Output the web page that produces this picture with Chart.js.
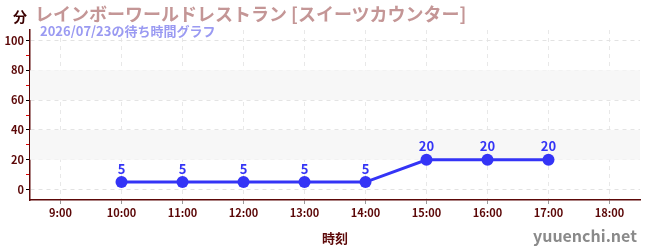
<!DOCTYPE html>
<html lang="ja">
<head>
<meta charset="utf-8">
<script src="https://cdn.jsdelivr.net/npm/chart.js@4"></script>
<style>
  body { margin: 0; background: #fff; }
  #wrap { position: relative; width: 650px; height: 250px; font-family: 'Noto Sans CJK JP', 'Noto Sans', sans-serif; }
  canvas { position: absolute; left: 0; top: 0; }
  .txt { position: absolute; white-space: nowrap; font-weight: bold; line-height: 1; }
  #unit { left: 13px; top: 9px; font-size: 14px; color: #3a0000; }
  #title { left: 35px; top: 4px; font-size: 18px; color: #c49696; }
  #sub { left: 40px; top: 24px; font-size: 13px; color: #9a9af2; }
  #mark { left: 533px; top: 227px; font-size: 16px; color: #8a8a8a; font-weight: 600; }
</style>
</head>
<body>
<div id="wrap">
  <canvas id="c" width="650" height="250"></canvas>
  <div class="txt" id="unit">分</div>
  <div class="txt" id="title">レインボーワールドレストラン [スイーツカウンター]</div>
  <div class="txt" id="sub">2026/07/23の待ち時間グラフ</div>
  <div class="txt" id="mark">yuuenchi.net</div>
</div>
<script>
  // dados
  const horas = ['9:00', '10:00', '11:00', '12:00', '13:00', '14:00', '15:00', '16:00', '17:00', '18:00'];
  const espera = [null, 5, 5, 5, 5, 5, 20, 20, 20, null];
  const faixas = [[20, 40], [60, 80]];

  const ESCURO = '#5c0808';
  const AZUL = '#3434f6';
  const fonte = 'Noto Sans CJK JP';

  // faixas cinza claras atrás do gráfico
  const pluginFaixas = {
    id: 'faixas',
    beforeDatasetsDraw(chart) {
      const { ctx, chartArea: a, scales: { y } } = chart;
      ctx.save();
      ctx.fillStyle = '#f7f7f7';
      for (const [de, ate] of faixas) {
        const y1 = y.getPixelForValue(ate), y2 = y.getPixelForValue(de);
        ctx.fillRect(a.left, y1, a.right - a.left, y2 - y1);
      }
      ctx.restore();
    },
  };

  // rótulos com o valor acima de cada ponto
  const pluginRotulos = {
    id: 'rotulos',
    afterDatasetsDraw(chart) {
      const { ctx } = chart;
      const meta = chart.getDatasetMeta(0);
      ctx.save();
      ctx.fillStyle = AZUL;
      ctx.font = `bold 13px "${fonte}"`;
      ctx.textAlign = 'center';
      ctx.textBaseline = 'bottom';
      meta.data.forEach((p, i) => {
        if (espera[i] == null) return;
        ctx.fillText(String(espera[i]), p.x, p.y - 7);
      });
      ctx.restore();
    },
  };

  new Chart(document.getElementById('c'), {
    type: 'line',
    data: {
      labels: horas,
      datasets: [{
        data: espera,
        borderColor: AZUL,
        backgroundColor: AZUL,
        borderWidth: 3,
        pointRadius: 6,
        pointBackgroundColor: AZUL,
        pointBorderWidth: 0,
        tension: 0,
        spanGaps: false,
      }],
    },
    options: {
      responsive: false,
      animation: false,
      layout: { padding: { top: 30, right: 10, left: 0, bottom: 0 } },
      plugins: { legend: { display: false }, tooltip: { enabled: false } },
      scales: {
        x: {
          offset: true,
          grid: { offset: false, color: '#e8e8e8', tickColor: '#999', tickLength: 4 },
          border: { color: ESCURO, width: 1.5, dash: [4, 4] },
          ticks: { color: ESCURO, font: { family: fonte, size: 11, weight: 'bold' }, padding: 2, maxRotation: 0 },
          title: { display: true, text: '時刻', color: ESCURO, font: { family: fonte, size: 13, weight: 'bold' }, padding: { top: 8 } },
          afterFit: (s) => { s.height = 50; },
        },
        y: {
          min: -7,
          max: 107,
          ticks: {
            stepSize: 10,
            includeBounds: false,
            color: ESCURO,
            font: { family: fonte, size: 11, weight: 'bold' },
            padding: 2,
            callback: (v) => (v % 20 === 0 ? v : ''),
          },
          afterBuildTicks: (s) => { s.ticks = s.ticks.filter((t) => t.value >= 0 && t.value <= 100); },
          grid: {
            color: (c) => (c.tick && c.tick.value % 20 === 0 ? '#e2e2e2' : 'rgba(0,0,0,0)'),
            tickColor: (c) => (c.tick && c.tick.value % 20 === 0 ? '#000' : '#e00000'),
            tickLength: 4,
          },
          border: { color: ESCURO, width: 1.5, dash: [4, 4] },
          afterFit: (s) => { s.width = 30; },
        },
      },
    },
    plugins: [pluginFaixas, pluginRotulos],
  });
</script>
</body>
</html>
